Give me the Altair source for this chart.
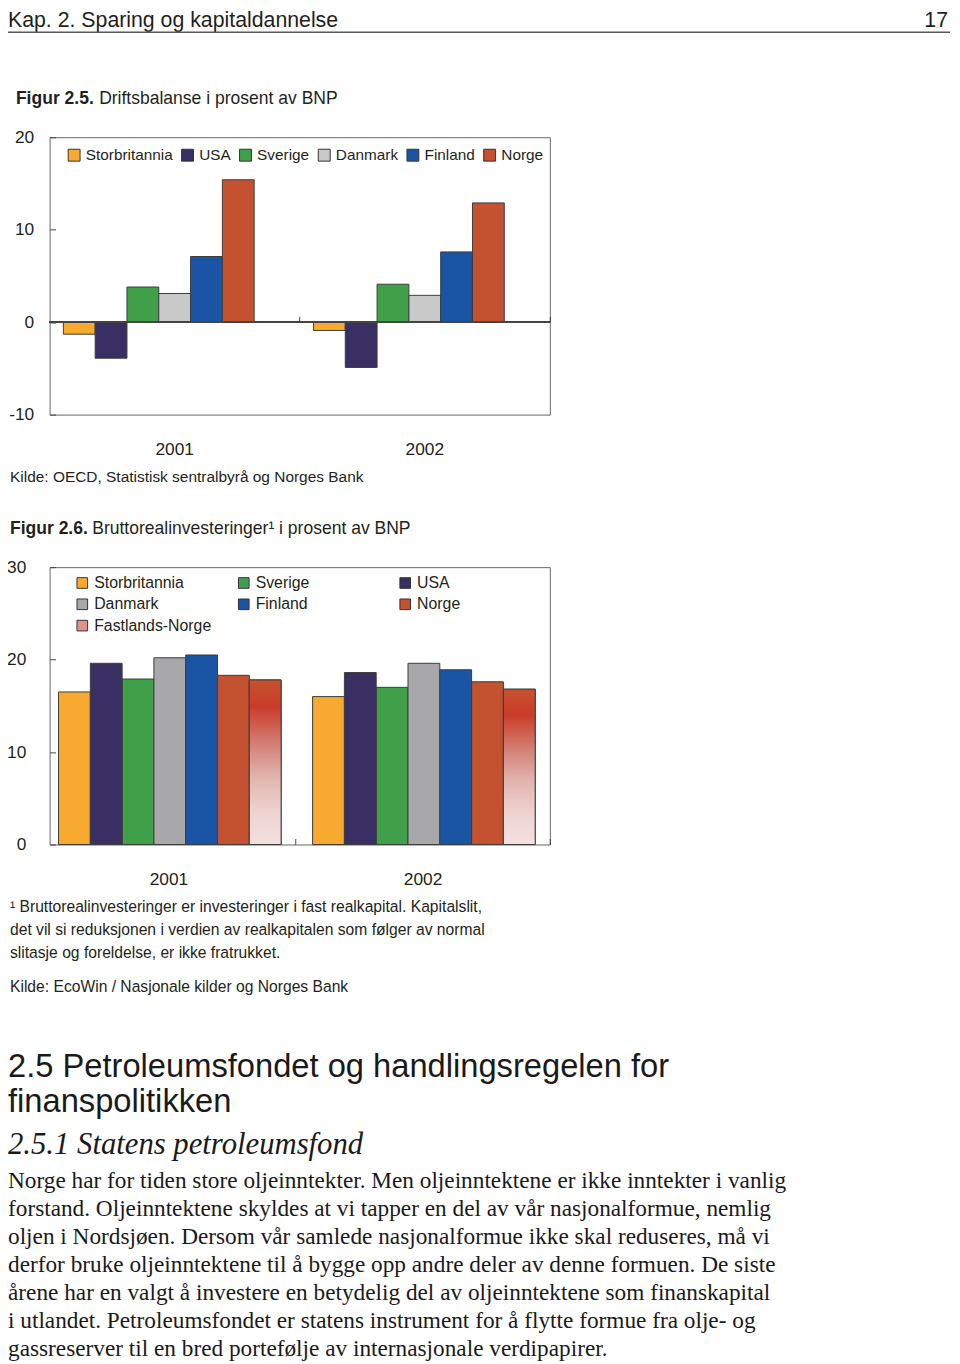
import altair as alt
import pandas as pd

# ---------------- data ----------------
years = ["2001", "2002"]

countries_25 = ["Storbritannia", "USA", "Sverige", "Danmark", "Finland", "Norge"]
colors_25 = ["#f8a930", "#392f63", "#40a04a", "#c9c9c9", "#1a55a5", "#c4512f"]
balance_2001 = [-1.3, -3.9, 3.8, 3.1, 7.1, 15.4]
balance_2002 = [-0.9, -4.9, 4.1, 2.9, 7.6, 12.9]
ticks_25 = [-10, 0, 10, 20]

countries_26 = ["Storbritannia", "Sverige", "USA", "Danmark", "Finland", "Norge", "Fastlands-Norge"]
colors_26 = ["#f8a930", "#40a04a", "#392f63", "#a8a8ab", "#1a55a5", "#c4512f", "#df9288"]
invest_2001 = [16.5, 17.9, 19.6, 20.2, 20.5, 18.3, 17.8]
invest_2002 = [16.0, 17.0, 18.6, 19.6, 18.9, 17.6, 16.8]
ticks_26 = [0, 10, 20, 30]

header_left = "Kap. 2. Sparing og kapitaldannelse"
header_right = "17"
title25_bold = "Figur 2.5."
title25_rest = "Driftsbalanse i prosent av BNP"
source25 = "Kilde: OECD, Statistisk sentralbyrå og Norges Bank"
title26_bold = "Figur 2.6."
title26_rest = "Bruttorealinvesteringer¹ i prosent av BNP"
footnote26 = [
    "¹ Bruttorealinvesteringer er investeringer i fast realkapital. Kapitalslit,",
    "det vil si reduksjonen i verdien av realkapitalen som følger av normal",
    "slitasje og foreldelse, er ikke fratrukket.",
]
source26 = "Kilde: EcoWin / Nasjonale kilder og Norges Bank"
heading_lines = ["2.5 Petroleumsfondet og handlingsregelen for", "finanspolitikken"]
subheading = "2.5.1 Statens petroleumsfond"
body_lines = [
    "Norge har for tiden store oljeinntekter. Men oljeinntektene er ikke inntekter i vanlig",
    "forstand. Oljeinntektene skyldes at vi tapper en del av vår nasjonalformue, nemlig",
    "oljen i Nordsjøen. Dersom vår samlede nasjonalformue ikke skal reduseres, må vi",
    "derfor bruke oljeinntektene til å bygge opp andre deler av denne formuen. De siste",
    "årene har en valgt å investere en betydelig del av oljeinntektene som finanskapital",
    "i utlandet. Petroleumsfondet er statens instrument for å flytte formue fra olje- og",
    "gassreserver til en bred portefølje av internasjonale verdipapirer.",
]

# ---------------- style ----------------
SANS = "'Liberation Sans', Arial, Helvetica, sans-serif"
SERIF = "'Liberation Serif', 'Times New Roman', serif"
INK = "#231f20"
EDGE = "#3d3d3d"
AX = 17.5

W25, H25 = 505, 280
W26, H26 = 505, 280


def long_table(cats, v1, v2):
    rows = []
    for yr, vals in zip(years, [v1, v2]):
        for c, v in zip(cats, vals):
            rows.append({"year": yr, "country": c, "value": v})
    return pd.DataFrame(rows)


def text_layer(txt, x, y, size, font=SANS, weight="normal", style="normal",
               align="left", lh=None, color=INK):
    return alt.Chart(pd.DataFrame({"t": [txt]})).mark_text(
        align=align, baseline="alphabetic", font=font, fontSize=size,
        fontWeight=weight, fontStyle=style, color=color,
        lineBreak="\n", lineHeight=lh if lh else size,
    ).encode(text="t:N", x=alt.value(x), y=alt.value(y))


def label_axis_x():
    return alt.Axis(orient="bottom", title=None, ticks=False, domain=False,
                    labelPadding=26, labelAngle=0, labelFontSize=AX,
                    labelFont=SANS, labelColor=INK)


def label_axis_y(vals, pad):
    return alt.Axis(title=None, values=vals, ticks=False, domain=False, grid=False,
                    labelPadding=pad, labelFontSize=AX, labelFont=SANS,
                    labelColor=INK, labelExpr="'' + datum.value")


def tick_layer(df, w, h, yvals, zero_frac, band_pos):
    # invisible layer carrying the inward tick marks (group separator and y ticks)
    return alt.Chart(df).mark_point(opacity=0).encode(
        x=alt.X("year:N", axis=alt.Axis(orient="top", offset=-h * zero_frac,
                                        bandPosition=band_pos, labels=False, domain=False,
                                        ticks=True, tickSize=6, tickColor="#444",
                                        tickWidth=1, title=None, grid=False)),
        y=alt.Y("value:Q", axis=alt.Axis(orient="right", offset=-w, values=yvals,
                                         labels=False, domain=False, ticks=True,
                                         tickSize=6, tickColor="#444", tickWidth=1,
                                         title=None, grid=False)),
    )


# ---------------- Figure 2.5 ----------------
PI25 = 0.11
df25 = long_table(countries_25, balance_2001, balance_2002)
x25 = alt.Scale(paddingInner=PI25, paddingOuter=PI25 / 2)
y25 = alt.Scale(domain=[-10, 20], nice=False, zero=False)

bars25 = alt.Chart(df25).mark_bar(stroke=EDGE, strokeWidth=1).encode(
    x=alt.X("year:N", scale=x25, axis=label_axis_x()),
    xOffset=alt.XOffset("country:N", scale=alt.Scale(domain=countries_25, paddingInner=0, paddingOuter=0)),
    y=alt.Y("value:Q", scale=y25, axis=label_axis_y(ticks_25, 16)),
    color=alt.Color("country:N", scale=alt.Scale(domain=countries_25, range=colors_25),
                    legend=alt.Legend(title=None, orient="none", legendX=17, legendY=10,
                                      direction="horizontal", symbolType="square",
                                      symbolSize=144, symbolStrokeColor="#333",
                                      symbolStrokeWidth=1, labelFont=SANS,
                                      labelFontSize=15.5, labelColor=INK, labelOffset=4,
                                      columnPadding=5.5, padding=0)),
)
zero25 = alt.Chart(df25).mark_rule(color="#444", strokeWidth=1.2).encode(
    y=alt.YDatum(0, axis=None))
ticks25 = tick_layer(df25, W25, H25, ticks_25, 20 / 30, 1 + (PI25 / 2) / (1 - PI25))

hdr_rule = alt.Chart(pd.DataFrame({"k": [0]})).mark_rule(color="#555", strokeWidth=1.5).encode(
    x=alt.value(-42), x2=alt.value(909), y=alt.value(-106))

chart25 = alt.layer(
    bars25, zero25, ticks25,
    text_layer(header_left, -42, -111, 21.5),
    text_layer(header_right, 907, -111, 21.5, align="right"),
    hdr_rule,
    text_layer(title25_bold, -34, -34, 17.7, weight="bold"),
    text_layer(title25_rest, 50, -34, 17.7),
    text_layer(source25, -40, 348, 15.6),
).resolve_axis(x="independent", y="independent").properties(width=W25, height=H25)

# ---------------- Figure 2.6 ----------------
PI26, PO26, AL26 = 0.1306, 0.0497, 0.353
df26 = long_table(countries_26, invest_2001, invest_2002)
x26 = alt.Scale(paddingInner=PI26, paddingOuter=PO26, align=AL26)
y26 = alt.Scale(domain=[0, 30], nice=False)
xo26 = alt.Scale(domain=countries_26, paddingInner=0, paddingOuter=0)

bars26 = alt.Chart(df26).mark_bar(stroke=EDGE, strokeWidth=1).encode(
    x=alt.X("year:N", scale=x26, axis=label_axis_x()),
    xOffset=alt.XOffset("country:N", scale=xo26),
    y=alt.Y("value:Q", scale=y26, axis=label_axis_y(ticks_26, 24)),
    color=alt.Color("country:N", scale=alt.Scale(domain=countries_26, range=colors_26),
                    legend=alt.Legend(title=None, orient="none", legendX=25, legendY=8,
                                      direction="horizontal", columns=3, gridAlign="all",
                                      symbolType="square", symbolSize=115,
                                      symbolStrokeColor="#333", symbolStrokeWidth=1,
                                      labelFont=SANS, labelFontSize=16,
                                      labelColor=INK, labelOffset=4, rowPadding=5.5,
                                      columnPadding=24, padding=0)),
)

fade = alt.Gradient(
    gradient="linear", x1=0, x2=0, y1=0, y2=1,
    stops=[
        alt.GradientStop(color="#c6532e", offset=0.0),
        alt.GradientStop(color="#c93b29", offset=0.16),
        alt.GradientStop(color="#d27d72", offset=0.38),
        alt.GradientStop(color="#e0b2ac", offset=0.58),
        alt.GradientStop(color="#eed3d1", offset=0.8),
        alt.GradientStop(color="#f4e0df", offset=1.0),
    ],
)
grad26 = alt.Chart(df26).transform_filter(
    alt.datum.country == "Fastlands-Norge"
).mark_bar(fill=fade, stroke=EDGE, strokeWidth=1).encode(
    x=alt.X("year:N", axis=None),
    xOffset=alt.XOffset("country:N", scale=xo26),
    y=alt.Y("value:Q", axis=None),
)
ticks26 = tick_layer(df26, W26, H26, ticks_26, 1.0, 1 + (PI26 / 2) / (1 - PI26))

chart26 = alt.layer(
    bars26, grad26, ticks26,
    text_layer(title26_bold, -40, -33, 17.7, weight="bold"),
    text_layer(title26_rest, 43, -33, 17.7),
    text_layer("\n".join(footnote26), -40, 348.5, 15.8, lh=22.8),
    text_layer(source26, -40, 429, 15.8),
    text_layer("\n".join(heading_lines), -42, 515, 33, lh=35, color="#1a1a1a"),
    text_layer(subheading, -42, 592, 31, font=SERIF, style="italic", color="#1a1a1a"),
    text_layer("\n".join(body_lines), -42, 627, 23.5, font=SERIF, lh=28.2, color="#1a1a1a"),
).resolve_axis(x="independent", y="independent").properties(width=W26, height=H26)

chart = alt.vconcat(chart25, chart26, spacing=33).resolve_scale(
    color="independent"
).properties(
    padding={"left": -2, "top": -5, "right": 0, "bottom": 0}, background="white"
).configure_view(stroke="#666", strokeWidth=1)

chart.save("out.html", embed_options={"renderer": "svg", "actions": False})
